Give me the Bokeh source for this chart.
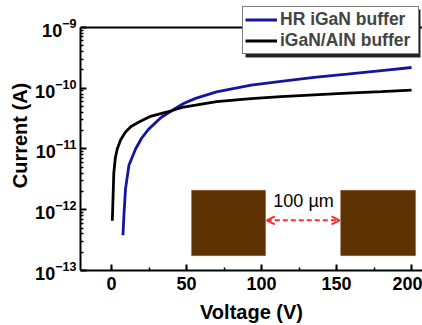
from bokeh.plotting import figure
from bokeh.models import (Range1d, SingleIntervalTicker, FixedTicker, Span, Legend, LegendItem,
                          BoxAnnotation, Arrow, OpenHead, Label)
from bokeh.embed import file_html
from bokeh.resources import INLINE

# ---- data ----
v_hr = [7.6, 8.3, 9.3, 11.6, 16, 20, 24.6, 33, 40, 48, 56, 70, 93, 113, 135, 157, 180, 200]
i_hr = [3.8e-13, 8.5e-13, 2.2e-12, 5.4e-12, 1.0e-11, 1.5e-11, 2.1e-11, 3.3e-11, 4.25e-11,
        5.6e-11, 6.8e-11, 8.7e-11, 1.12e-10, 1.29e-10, 1.51e-10, 1.70e-10, 1.95e-10, 2.19e-10]

v_aln = [0.5, 1.0, 1.5, 2.5, 3.8, 6, 9.3, 13, 18, 26, 34, 40, 48, 56, 70, 93, 113, 135, 157, 180, 200]
i_aln = [6.6e-13, 1.6e-12, 4.0e-12, 7.1e-12, 1.0e-11, 1.4e-11, 1.9e-11, 2.35e-11, 2.75e-11,
         3.45e-11, 3.9e-11, 4.25e-11, 4.9e-11, 5.25e-11, 6.0e-11, 6.75e-11, 7.25e-11,
         7.75e-11, 8.3e-11, 8.8e-11, 9.3e-11]

series_labels = ["HR iGaN buffer", "iGaN/AlN buffer"]
inset_text = "100 \u00b5m"
y_decades = [-13, -12, -11, -10, -9]

FONT = "Liberation Sans"
BLUE = "#1414A0"
BROWN = "#5E3203"
RED = "#FF2A2A"

y_lo, y_hi = 10.0 ** y_decades[0], 10.0 ** y_decades[-1]
p = figure(width=422, height=325, output_backend="svg", toolbar_location=None,
           y_axis_type="log",
           x_range=Range1d(-20.7, 207.3), y_range=Range1d(y_lo, 10 ** -8.557),
           min_border_left=80, min_border_right=0, min_border_top=0, min_border_bottom=54)
p.outline_line_color = None
p.grid.visible = False
p.background_fill_color = "white"
p.border_fill_color = "white"

# axes styling
p.xaxis.ticker = SingleIntervalTicker(interval=50, num_minor_ticks=2)
major_y = [10.0 ** d for d in y_decades]
minor_y = [m * 10.0 ** d for d in y_decades[:-1] for m in range(2, 10)]
p.yaxis.ticker = FixedTicker(ticks=major_y, minor_ticks=minor_y)
p.yaxis.bounds = (y_lo, y_hi)
for ax in (p.xaxis[0], p.yaxis[0]):
    ax.axis_line_width = 2
    ax.major_tick_line_width = 2
    ax.minor_tick_line_width = 1.5
    ax.major_tick_in = 6
    ax.major_tick_out = 0
    ax.minor_tick_in = 3
    ax.minor_tick_out = 0
    ax.major_label_text_font = FONT
    ax.major_label_text_font_style = "bold"
    ax.major_label_text_font_size = "18px"
    ax.major_label_text_color = "black"
    ax.axis_label_text_font = FONT
    ax.axis_label_text_font_style = "bold"
    ax.axis_label_text_font_size = "20px"
    ax.axis_label_text_color = "black"
p.xaxis.axis_label = "Voltage (V)"
p.yaxis.axis_label = "Current (A)"
p.xaxis.major_label_standoff = 6
p.yaxis.major_label_standoff = 4
p.xaxis.axis_label_standoff = 8
p.yaxis.axis_label_standoff = 1

# top spine
p.add_layout(Span(location=y_hi, dimension="width", line_color="black", line_width=2))

# inset schematic (decoration)
inset_box_y = (2.1e-12, 1.75e-13)
p.add_layout(BoxAnnotation(left=53.3, right=102.7, top=inset_box_y[0], bottom=inset_box_y[1],
                           fill_color=BROWN, fill_alpha=1, line_color="#8a5a2a", line_width=1, level="underlay"))
p.add_layout(BoxAnnotation(left=152.7, right=202.7, top=inset_box_y[0], bottom=inset_box_y[1],
                           fill_color=BROWN, fill_alpha=1, line_color="#8a5a2a", line_width=1, level="underlay"))
p.add_layout(Arrow(x_start=103.5, y_start=6.7e-13, x_end=152, y_end=6.7e-13,
                   line_color=RED, line_width=2, line_dash="5 3",
                   start=OpenHead(size=8, line_color=RED, line_width=2),
                   end=OpenHead(size=8, line_color=RED, line_width=2)))
p.add_layout(Label(x=128, y=1.4e-12, text=inset_text, text_font=FONT, text_font_size="18px",
                   text_align="center", text_baseline="middle", text_color="black"))

# curves
r_hr = p.line(v_hr, i_hr, line_color=BLUE, line_width=2.8)
r_aln = p.line(v_aln, i_aln, line_color="black", line_width=2.8)

# legend geometry (screen px, relative to the frame's bottom-left)
LEG_X, LEG_Y, LEG_W, LEG_H, SHADOW = 162, 216, 175, 48, 3
p.add_layout(BoxAnnotation(left=LEG_X + SHADOW, right=LEG_X + LEG_W + SHADOW,
                           top=LEG_Y + LEG_H - SHADOW, bottom=LEG_Y - SHADOW,
                           left_units="screen", right_units="screen",
                           top_units="screen", bottom_units="screen",
                           fill_color="#222222", fill_alpha=1, line_color=None))
legend = Legend(items=[LegendItem(label=series_labels[0], renderers=[r_hr]),
                       LegendItem(label=series_labels[1], renderers=[r_aln])],
                location=(LEG_X, LEG_Y), padding=2, spacing=0, margin=0,
                glyph_width=32, glyph_height=21, label_height=21, label_width=136,
                label_standoff=3,
                label_text_font=FONT, label_text_font_style="bold", label_text_font_size="17.5px",
                border_line_color="black", border_line_width=1.5,
                background_fill_color="white", background_fill_alpha=1)
p.add_layout(legend)

open("out.html", "w").write(file_html(p, INLINE))
